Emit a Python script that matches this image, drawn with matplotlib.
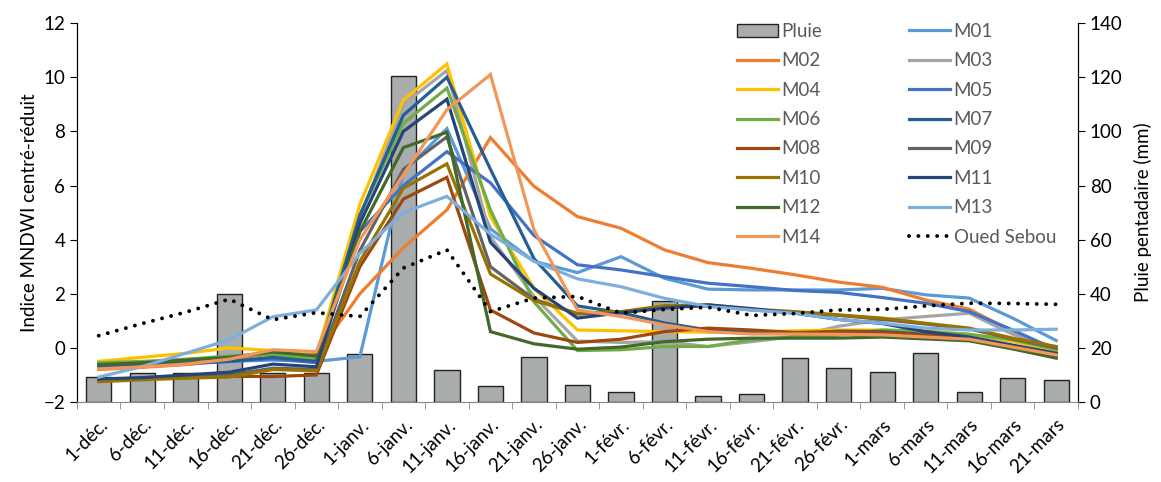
import numpy as np
import matplotlib.pyplot as plt

plt.rcParams['font.family'] = ['Lato', 'DejaVu Sans']

# dates (pentades) et pluie
dates = ['1-déc.', '6-déc.', '11-déc.', '16-déc.', '21-déc.', '26-déc.',
         '1-janv.', '6-janv.', '11-janv.', '16-janv.', '21-janv.', '26-janv.',
         '1-févr.', '6-févr.', '11-févr.', '16-févr.', '21-févr.', '26-févr.',
         '1-mars', '6-mars', '11-mars', '16-mars', '21-mars']
pluie = [9.2, 10.7, 10.8, 40, 10.8, 10.6, 17.7, 120.5, 11.8, 5.9, 16.7, 6.3,
         3.8, 37.3, 2.3, 3.0, 16.4, 12.4, 11.0, 18.0, 3.8, 8.7, 8.0]

# indice MNDWI centré-réduit par site
m01 = [-0.7, -0.65, -0.6, -0.5, -0.45, -0.5, -0.33, 6.5, 8.1, 4.4, 3.2, 2.78,
       3.37, 2.57, 2.17, 2.14, 2.14, 2.14, 2.2, 1.96, 1.84, 1.1, 0.27]
m02 = [-0.8, -0.72, -0.62, -0.45, -0.2, -0.25, 2.0, 3.7, 5.1, 7.77, 5.97, 4.85,
       4.42, 3.62, 3.15, 2.94, 2.7, 2.43, 2.24, 1.77, 1.43, 0.6, -0.2]
m03 = [-0.6, -0.52, -0.45, -0.35, -0.2, -0.35, 4.8, 9.0, 10.25, 4.1, 1.9, 0.25,
       0.2, 0.23, 0.05, 0.23, 0.42, 0.8, 1.03, 1.16, 1.28, 0.5, 0.0]
m04 = [-0.5, -0.35, -0.2, 0.0, -0.1, -0.3, 5.3, 9.16, 10.49, 4.85, 2.2, 0.66,
       0.63, 0.6, 0.58, 0.57, 0.63, 0.66, 0.66, 0.63, 0.5, 0.23, -0.12]
m05 = [-0.68, -0.62, -0.58, -0.5, -0.4, -0.55, 4.3, 6.0, 7.25, 6.1, 4.15, 3.07,
       2.88, 2.63, 2.39, 2.26, 2.12, 2.05, 1.86, 1.65, 1.34, 0.66, -0.07]
m06 = [-0.55, -0.5, -0.42, -0.3, -0.25, -0.4, 4.9, 8.3, 9.6, 5.1, 1.7, -0.1,
       -0.07, 0.05, 0.05, 0.3, 0.4, 0.47, 0.66, 0.6, 0.5, 0.3, -0.07]
m07 = [-0.65, -0.6, -0.55, -0.5, -0.35, -0.5, 4.9, 8.6, 10.0, 6.6, 3.3, 1.55,
       1.3, 0.92, 0.66, 0.57, 0.51, 0.62, 0.6, 0.5, 0.36, 0.08, -0.22]
m08 = [-1.2, -1.15, -1.1, -1.05, -1.06, -1.0, 3.0, 5.5, 6.3, 1.4, 0.55, 0.2,
       0.32, 0.6, 0.73, 0.66, 0.57, 0.6, 0.57, 0.47, 0.32, 0.04, -0.3]
m09 = [-1.2, -1.12, -1.08, -1.0, -0.75, -0.8, 3.6, 6.6, 7.8, 3.0, 1.8, 1.25,
       1.3, 1.5, 1.55, 1.4, 1.3, 1.2, 1.05, 0.88, 0.7, 0.33, 0.0]
m10 = [-1.25, -1.18, -1.12, -1.08, -0.8, -0.85, 3.2, 5.9, 6.8, 2.73, 1.75, 1.28,
       1.34, 1.56, 1.59, 1.43, 1.34, 1.22, 1.1, 0.91, 0.73, 0.36, 0.05]
m11 = [-1.15, -1.1, -1.0, -0.9, -0.6, -0.7, 4.6, 8.0, 9.19, 3.9, 2.2, 1.1,
       1.3, 1.47, 1.59, 1.45, 1.28, 1.05, 0.9, 0.6, 0.4, 0.1, -0.2]
m12 = [-0.62, -0.55, -0.45, -0.35, -0.15, -0.3, 4.3, 7.4, 7.97, 0.6, 0.15, -0.05,
       0.03, 0.23, 0.32, 0.36, 0.36, 0.36, 0.4, 0.33, 0.26, -0.04, -0.38]
m13 = [-1.08, -0.69, -0.2, 0.3, 1.15, 1.4, 3.5, 5.0, 5.6, 4.2, 3.2, 2.55,
       2.26, 1.83, 1.53, 1.4, 1.28, 1.05, 0.91, 0.73, 0.66, 0.66, 0.69]
m14 = [-0.78, -0.7, -0.6, -0.42, -0.07, -0.14, 4.0, 6.4, 8.8, 10.1, 4.36, 1.4,
       1.16, 0.85, 0.6, 0.51, 0.51, 0.5, 0.48, 0.4, 0.32, 0.03, -0.26]
sebou = [0.45, 0.9, 1.32, 1.8, 1.04, 1.3, 1.16, 2.95, 3.62, 1.34, 1.84, 1.9,
         1.28, 1.42, 1.5, 1.2, 1.27, 1.4, 1.42, 1.55, 1.65, 1.64, 1.61]

series = [m01, m02, m03, m04, m05, m06, m07, m08, m09, m10, m11, m12, m13, m14]
noms = ['M%02d' % k for k in range(1, 15)]
couleurs = ['#5B9BD5', '#ED7D31', '#A5A5A5', '#FFC000', '#4472C4', '#70AD47',
            '#255E91', '#9E480E', '#636363', '#997300', '#264478', '#43682B',
            '#7CAFDD', '#F1975A']

x = np.arange(len(dates))
fs = 13.5

fig = plt.figure(figsize=(11.61, 4.82), dpi=100)
ax = fig.add_axes([0.0663, 0.166, 0.8622, 0.786])
ax2 = ax.twinx()

# barres de pluie sur l'axe de droite, derrière les courbes
barres = ax2.bar(x, pluie, width=0.58, color='#A9ACAC', edgecolor='#222222',
                 linewidth=1.0, label='Pluie')
ax2.set_ylim(0, 140)
ax2.set_yticks(range(0, 141, 20))
ax2.set_ylabel('Pluie pentadaire (mm)', fontsize=fs, labelpad=8)
ax.set_zorder(ax2.get_zorder() + 1)
ax.patch.set_visible(False)

lignes = []
for vals, nom, c in zip(series, noms, couleurs):
    l, = ax.plot(x, vals, color=c, lw=2.3, label=nom, solid_joinstyle='miter')
    lignes.append(l)
ls, = ax.plot(x, sebou, color='black', lw=2.8, linestyle=(0, (0.01, 2.4)),
              dash_capstyle='round', label='Oued Sebou')

ax.set_xlim(-0.5, len(dates) - 0.5)
ax.set_ylim(-2, 12)
ax.set_yticks(range(-2, 13, 2))
ax.set_ylabel('Indice MNDWI centré-réduit', fontsize=fs, labelpad=4)

# graduations entre les catégories, étiquettes au centre
ax.set_xticks(x)
ax.set_xticklabels(dates, rotation=45, ha='right', rotation_mode='anchor',
                   fontsize=fs)
ax.tick_params(axis='x', which='major', length=0, pad=10)
ax.set_xticks(np.arange(-0.5, len(dates)), minor=True)
ax.tick_params(axis='x', which='minor', length=5, color='#888888')
ax.tick_params(axis='y', labelsize=fs, length=5)
ax2.tick_params(axis='y', labelsize=fs, length=5)

for a in (ax, ax2):
    a.spines['top'].set_visible(False)
ax.spines['bottom'].set_color('#888888')
ax2.spines['bottom'].set_visible(False)

# légende sur deux colonnes, lue ligne par ligne
h = [barres] + lignes + [ls]
ordre = list(range(0, 16, 2)) + list(range(1, 16, 2))
leg = ax.legend([h[i] for i in ordre], [h[i].get_label() for i in ordre],
                ncol=2, frameon=False, fontsize=fs, loc='upper right',
                bbox_to_anchor=(0.995, 1.045), handlelength=2.2,
                columnspacing=4.6, labelspacing=0.66, handletextpad=0.2)
for t in leg.get_texts():
    t.set_color('#595959')

fig.savefig('out.png', dpi=100)
